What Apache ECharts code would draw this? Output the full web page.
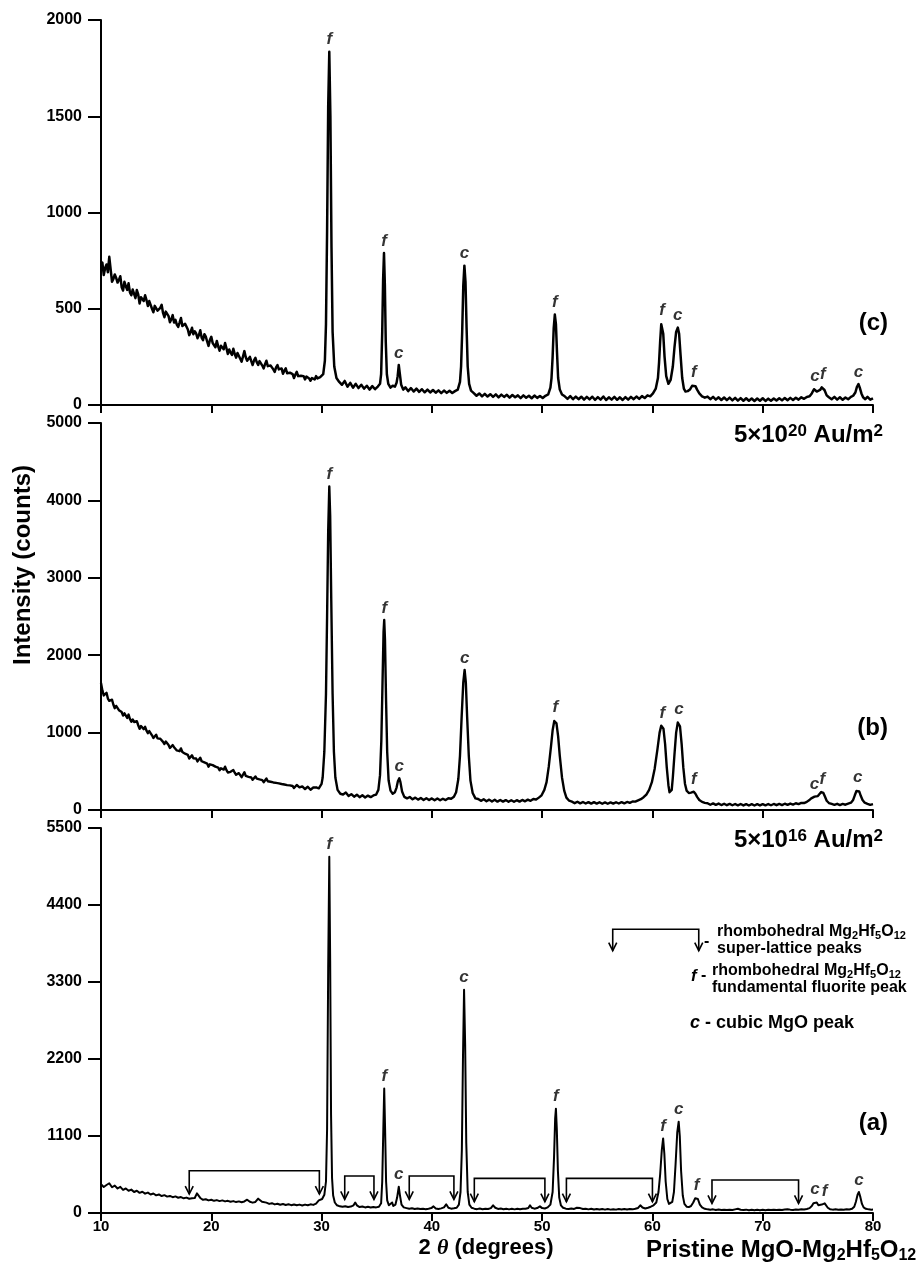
<!DOCTYPE html>
<html>
<head>
<meta charset="utf-8">
<script src="https://cdn.jsdelivr.net/npm/echarts@6/dist/echarts.min.js"></script>
<style>
  html, body { margin: 0; padding: 0; background: #fff; }
  #main { width: 923px; height: 1264px; }
</style>
</head>
<body>
<div id="main"></div>
<script>
// tick values
const xTicks = [10, 20, 30, 40, 50, 60, 70, 80]
const yTicksC = [0, 500, 1000, 1500, 2000]
const yTicksB = [0, 1000, 2000, 3000, 4000, 5000]
const yTicksA = [0, 1100, 2200, 3300, 4400, 5500]

// (c) 5x10^20 Au/m2 : [2theta, counts]
const patternC = [[10.00,725],[10.125,740],[10.25,675],[10.375,712],[10.50,730],[10.625,690],[10.75,770],[10.875,705],[11.00,640],[11.125,655],[11.25,678],[11.375,660],[11.50,636],[11.625,650],[11.75,669],[11.875,612],[12.00,594],[12.125,640],[12.25,617],[12.375,598],[12.50,632],[12.625,585],[12.75,570],[12.875,600],[13.00,577],[13.125,555],[13.25,597],[13.375,575],[13.50,527],[13.625,560],[13.75,564],[13.875,540],[14.00,570],[14.125,545],[14.25,514],[14.375,540],[14.50,530],[14.625,500],[14.75,482],[14.875,515],[15.00,525],[15.125,490],[15.25,482],[15.375,505],[15.50,520],[15.625,478],[15.75,456],[15.875,485],[16.00,478],[16.125,462],[16.25,430],[16.375,445],[16.50,467],[16.625,428],[16.75,442],[16.875,418],[17.00,406],[17.125,428],[17.25,452],[17.375,410],[17.50,405],[17.625,422],[17.75,424],[17.875,392],[18.00,363],[18.125,378],[18.25,401],[18.375,368],[18.50,383],[18.625,372],[18.75,347],[18.875,362],[19.00,388],[19.125,350],[19.25,337],[19.375,368],[19.50,355],[19.625,330],[19.75,307],[19.875,338],[20.00,354],[20.125,322],[20.25,316],[20.375,300],[20.50,333],[20.625,305],[20.75,282],[20.875,308],[21.00,312],[21.125,290],[21.25,322],[21.375,295],[21.50,265],[21.625,288],[21.75,272],[21.875,260],[22.00,292],[22.125,265],[22.25,246],[22.375,270],[22.50,266],[22.625,240],[22.75,225],[22.875,252],[23.00,280],[23.125,248],[23.25,230],[23.375,240],[23.50,250],[23.625,228],[23.75,208],[23.875,232],[24.00,245],[24.125,222],[24.25,208],[24.375,228],[24.50,220],[24.625,205],[24.75,190],[24.875,212],[25.00,230],[25.125,202],[25.25,192],[25.375,205],[25.50,209],[25.625,185],[25.75,172],[25.875,195],[26.00,207],[26.125,185],[26.25,176],[26.375,190],[26.50,162],[26.625,178],[26.75,190],[26.875,165],[27.00,158],[27.125,168],[27.25,176],[27.375,160],[27.50,140],[27.625,158],[27.75,172],[27.875,150],[28.00,148],[28.125,152],[28.25,160],[28.375,150],[28.50,133],[28.625,148],[28.75,157],[28.875,138],[29.00,126],[29.125,140],[29.25,149],[29.375,133],[29.50,150],[29.625,138],[29.75,128],[29.875,145],[30.00,148],[30.15,160],[30.30,230],[30.40,420],[30.50,900],[30.60,1550],[30.70,1835],[30.80,1500],[30.90,820],[31.00,380],[31.15,200],[31.35,140],[31.60,120],[31.85,105],[32.10,125],[32.35,95],[32.60,115],[32.85,90],[33.10,110],[33.35,88],[33.60,105],[33.85,85],[34.10,100],[34.35,80],[34.60,98],[34.85,82],[35.10,96],[35.30,110],[35.40,160],[35.50,380],[35.58,650],[35.66,790],[35.74,620],[35.82,330],[35.92,160],[36.05,110],[36.25,90],[36.45,100],[36.65,95],[36.80,115],[36.90,150],[37.00,208],[37.10,160],[37.22,105],[37.40,80],[37.60,92],[37.85,72],[38.10,88],[38.35,70],[38.60,85],[38.85,68],[39.10,82],[39.35,66],[39.60,80],[39.85,65],[40.10,78],[40.35,64],[40.60,76],[40.85,62],[41.10,75],[41.35,63],[41.60,74],[41.85,62],[42.10,72],[42.35,80],[42.55,120],[42.65,200],[42.75,380],[42.85,620],[42.95,724],[43.05,640],[43.15,400],[43.25,200],[43.38,110],[43.55,75],[43.80,62],[44.05,48],[44.30,60],[44.55,45],[44.80,58],[45.05,44],[45.30,56],[45.55,42],[45.80,55],[46.05,40],[46.30,54],[46.55,42],[46.80,53],[47.05,38],[47.30,52],[47.55,40],[47.80,50],[48.05,36],[48.30,50],[48.55,38],[48.80,48],[49.05,35],[49.30,49],[49.55,37],[49.80,47],[50.05,36],[50.30,48],[50.55,55],[50.75,90],[50.85,140],[50.95,250],[51.05,400],[51.15,470],[51.25,420],[51.35,270],[51.45,140],[51.60,80],[51.80,55],[52.05,45],[52.30,32],[52.55,46],[52.80,30],[53.05,44],[53.30,30],[53.55,43],[53.80,28],[54.05,42],[54.30,29],[54.55,43],[54.80,27],[55.05,41],[55.30,28],[55.55,44],[55.80,26],[56.05,40],[56.30,28],[56.55,42],[56.80,27],[57.05,40],[57.30,26],[57.55,41],[57.80,28],[58.05,42],[58.30,30],[58.55,44],[58.80,32],[59.05,46],[59.30,36],[59.55,50],[59.80,45],[60.05,60],[60.30,85],[60.50,140],[60.60,220],[60.70,330],[60.80,420],[60.88,428],[60.98,370],[61.10,250],[61.25,150],[61.45,110],[61.65,130],[61.85,200],[62.00,300],[62.15,380],[62.30,402],[62.42,370],[62.55,260],[62.70,140],[62.85,85],[63.00,70],[63.20,72],[63.40,80],[63.60,100],[63.75,106],[63.90,98],[64.05,80],[64.25,60],[64.50,45],[64.75,38],[65.00,44],[65.25,30],[65.50,42],[65.75,28],[66.00,40],[66.25,26],[66.50,39],[66.75,25],[67.00,38],[67.25,24],[67.50,37],[67.75,23],[68.00,36],[68.25,22],[68.50,35],[68.75,22],[69.00,34],[69.25,21],[69.50,34],[69.75,22],[70.00,35],[70.25,21],[70.50,33],[70.75,22],[71.00,34],[71.25,23],[71.50,35],[71.75,24],[72.00,36],[72.25,25],[72.50,37],[72.75,26],[73.00,38],[73.25,28],[73.50,40],[73.75,32],[74.00,42],[74.25,45],[74.45,60],[74.65,82],[74.75,87],[74.90,70],[75.05,65],[75.20,78],[75.35,92],[75.45,95],[75.60,78],[75.80,50],[76.00,40],[76.25,30],[76.50,42],[76.75,28],[77.00,40],[77.25,27],[77.50,39],[77.75,30],[78.00,42],[78.20,48],[78.40,65],[78.55,95],[78.68,109],[78.80,90],[78.95,60],[79.10,40],[79.30,30],[79.50,42],[79.75,28],[80.00,35]]

// (b) 5x10^16 Au/m2
const patternB = [[10.00,1640],[10.125,1545],[10.25,1480],[10.375,1470],[10.50,1515],[10.625,1440],[10.75,1410],[10.875,1395],[11.00,1425],[11.125,1360],[11.25,1315],[11.375,1345],[11.50,1335],[11.625,1290],[11.75,1315],[11.875,1265],[12.00,1220],[12.125,1250],[12.25,1235],[12.375,1190],[12.50,1233],[12.625,1175],[12.75,1140],[12.875,1170],[13.00,1137],[13.125,1115],[13.25,1147],[13.375,1095],[13.50,1048],[13.625,1085],[13.75,1080],[13.875,1045],[14.00,1075],[14.125,1025],[14.25,993],[14.375,1020],[14.50,1002],[14.625,965],[14.75,930],[14.875,950],[15.00,973],[15.125,925],[15.25,907],[15.375,920],[15.50,942],[15.625,880],[15.75,853],[15.875,885],[16.00,868],[16.125,840],[16.25,801],[16.375,820],[16.50,838],[16.625,812],[16.75,799],[16.875,770],[17.00,747],[17.125,760],[17.25,796],[17.375,750],[17.50,730],[17.625,728],[17.75,747],[17.875,712],[18.00,665],[18.125,690],[18.25,706],[18.375,668],[18.50,678],[18.625,665],[18.75,628],[18.875,650],[19.00,676],[19.125,630],[19.25,608],[19.375,615],[19.50,624],[19.625,600],[19.75,560],[19.875,590],[20.00,615],[20.125,580],[20.25,564],[20.375,560],[20.50,581],[20.625,548],[20.75,514],[20.875,540],[21.00,549],[21.125,522],[21.25,560],[21.375,515],[21.50,485],[21.625,505],[21.75,493],[21.875,488],[22.00,516],[22.125,482],[22.25,455],[22.375,468],[22.50,476],[22.625,462],[22.75,424],[22.875,445],[23.00,488],[23.125,440],[23.25,424],[23.375,428],[23.50,445],[23.625,420],[23.75,390],[23.875,412],[24.00,434],[24.125,405],[24.25,385],[24.375,395],[24.50,398],[24.625,386],[24.75,359],[24.875,378],[25.00,406],[25.125,372],[25.25,358],[25.375,365],[25.50,379],[25.625,356],[25.75,332],[25.875,350],[26.00,375],[26.125,344],[26.25,334],[26.375,336],[26.50,315],[26.625,330],[26.75,349],[26.875,322],[27.00,309],[27.125,318],[27.25,330],[27.375,310],[27.50,284],[27.625,305],[27.75,323],[27.875,298],[28.00,293],[28.125,296],[28.25,305],[28.375,290],[28.50,271],[28.625,284],[28.75,300],[28.875,280],[29.00,262],[29.125,278],[29.25,290],[29.375,276],[29.50,293],[29.625,286],[29.75,280],[29.875,300],[30.00,338],[30.10,420],[30.25,750],[30.40,1500],[30.50,2500],[30.60,3600],[30.70,4180],[30.78,3800],[30.88,2700],[31.00,1500],[31.12,750],[31.25,420],[31.45,260],[31.70,210],[31.95,200],[32.20,225],[32.45,180],[32.70,205],[32.95,172],[33.20,198],[33.45,165],[33.70,190],[33.95,162],[34.20,186],[34.45,166],[34.70,188],[34.95,200],[35.15,260],[35.30,450],[35.42,900],[35.52,1600],[35.62,2300],[35.68,2455],[35.75,2200],[35.85,1400],[35.95,750],[36.08,380],[36.25,250],[36.45,210],[36.65,230],[36.80,290],[36.92,370],[37.05,410],[37.15,360],[37.30,240],[37.50,170],[37.75,150],[38.00,168],[38.25,138],[38.50,160],[38.75,134],[39.00,155],[39.25,130],[39.50,152],[39.75,128],[40.00,150],[40.25,126],[40.50,148],[40.75,126],[41.00,146],[41.25,128],[41.50,152],[41.75,145],[42.00,170],[42.20,230],[42.40,400],[42.55,700],[42.70,1200],[42.85,1650],[42.97,1810],[43.08,1650],[43.20,1200],[43.35,700],[43.50,380],[43.70,220],[43.95,150],[44.20,142],[44.45,118],[44.70,138],[44.95,114],[45.20,134],[45.45,110],[45.70,132],[45.95,108],[46.20,130],[46.45,108],[46.70,128],[46.95,106],[47.20,127],[47.45,106],[47.70,127],[47.95,108],[48.20,130],[48.45,112],[48.70,134],[48.95,118],[49.20,142],[49.45,135],[49.70,160],[49.95,190],[50.20,260],[50.40,360],[50.60,560],[50.80,820],[50.95,1030],[51.10,1150],[51.20,1170],[51.30,1120],[51.45,950],[51.60,700],[51.80,420],[52.00,250],[52.20,160],[52.45,120],[52.70,108],[52.95,88],[53.20,106],[53.45,86],[53.70,104],[53.95,84],[54.20,102],[54.45,82],[54.70,101],[54.95,82],[55.20,100],[55.45,81],[55.70,99],[55.95,81],[56.20,98],[56.45,82],[56.70,100],[56.95,84],[57.20,102],[57.45,86],[57.70,104],[57.95,92],[58.20,110],[58.45,108],[58.70,125],[58.95,140],[59.20,165],[59.45,200],[59.70,260],[59.95,360],[60.20,530],[60.45,780],[60.65,1000],[60.80,1090],[60.90,1100],[61.00,1050],[61.15,850],[61.30,550],[61.45,320],[61.55,230],[61.65,215],[61.75,260],[61.85,420],[62.00,720],[62.15,1000],[62.30,1130],[62.40,1140],[62.50,1080],[62.65,850],[62.80,550],[62.95,340],[63.10,250],[63.30,220],[63.50,225],[63.65,235],[63.75,237],[63.90,210],[64.05,170],[64.25,130],[64.50,105],[64.75,92],[65.00,88],[65.25,68],[65.50,85],[65.75,66],[66.00,83],[66.25,64],[66.50,81],[66.75,62],[67.00,79],[67.25,61],[67.50,78],[67.75,60],[68.00,77],[68.25,59],[68.50,76],[68.75,58],[69.00,75],[69.25,58],[69.50,75],[69.75,59],[70.00,76],[70.25,60],[70.50,77],[70.75,61],[71.00,78],[71.25,62],[71.50,79],[71.75,64],[72.00,81],[72.25,66],[72.50,83],[72.75,70],[73.00,87],[73.25,76],[73.50,92],[73.75,90],[74.00,105],[74.20,125],[74.40,150],[74.55,165],[74.70,172],[74.85,170],[75.00,180],[75.15,205],[75.30,232],[75.40,237],[75.50,220],[75.65,170],[75.80,120],[76.00,90],[76.25,78],[76.50,66],[76.75,80],[77.00,64],[77.25,78],[77.50,68],[77.75,82],[78.00,95],[78.20,130],[78.35,190],[78.50,245],[78.62,267],[78.75,240],[78.90,180],[79.05,130],[79.25,95],[79.50,80],[79.75,66],[80.00,75]]

// (a) pristine MgO-Mg2Hf5O12
const patternA = [[10.00,410],[10.25,372],[10.50,400],[10.75,425],[11.00,368],[11.25,392],[11.50,350],[11.75,374],[12.00,330],[12.25,350],[12.50,318],[12.75,334],[13.00,300],[13.25,318],[13.50,288],[13.75,304],[14.00,276],[14.25,292],[14.50,264],[14.75,278],[15.00,252],[15.25,265],[15.50,242],[15.75,255],[16.00,234],[16.25,244],[16.50,226],[16.75,237],[17.00,218],[17.25,228],[17.50,210],[17.75,220],[18.00,203],[18.25,212],[18.50,215],[18.70,280],[18.85,290],[19.00,215],[19.25,188],[19.50,197],[19.75,180],[20.00,190],[20.25,174],[20.50,184],[20.75,170],[21.00,180],[21.25,166],[21.50,174],[21.75,160],[22.00,170],[22.25,156],[22.50,166],[22.75,153],[23.00,165],[23.25,190],[23.50,160],[23.75,148],[24.00,158],[24.25,205],[24.40,212],[24.60,160],[24.75,138],[25.00,148],[25.25,130],[25.50,140],[25.75,123],[26.00,132],[26.25,118],[26.50,128],[26.75,114],[27.00,124],[27.25,112],[27.50,122],[27.75,110],[28.00,120],[28.25,108],[28.50,120],[28.75,110],[29.00,124],[29.25,116],[29.50,135],[29.75,180],[29.90,175],[30.05,200],[30.25,260],[30.40,450],[30.50,1200],[30.60,3500],[30.70,5090],[30.78,3600],[30.86,1400],[30.95,500],[31.05,250],[31.20,150],[31.40,110],[31.65,95],[31.90,88],[32.15,96],[32.40,85],[32.65,92],[32.90,110],[33.05,150],[33.20,110],[33.45,85],[33.70,92],[33.95,80],[34.20,88],[34.45,78],[34.70,86],[34.95,80],[35.20,90],[35.40,140],[35.50,450],[35.60,1200],[35.68,1780],[35.76,1200],[35.85,450],[35.95,180],[36.10,110],[36.25,95],[36.40,150],[36.50,100],[36.70,120],[36.85,220],[37.00,376],[37.10,260],[37.25,120],[37.45,80],[37.70,70],[37.95,60],[38.20,68],[38.45,58],[38.70,64],[38.95,56],[39.20,62],[39.45,55],[39.70,62],[39.95,70],[40.15,95],[40.35,65],[40.60,58],[40.85,66],[41.10,80],[41.30,124],[41.50,75],[41.75,62],[42.00,68],[42.25,75],[42.45,120],[42.60,300],[42.72,900],[42.82,2200],[42.92,3190],[43.02,2400],[43.12,1000],[43.25,300],[43.40,120],[43.60,75],[43.85,62],[44.10,55],[44.35,64],[44.60,54],[44.85,60],[45.10,58],[45.35,70],[45.55,110],[45.75,75],[46.00,58],[46.25,64],[46.50,54],[46.75,62],[47.00,52],[47.25,60],[47.50,52],[47.75,60],[48.00,54],[48.25,62],[48.50,60],[48.75,72],[48.90,110],[49.05,75],[49.30,62],[49.55,70],[49.80,95],[50.00,70],[50.25,65],[50.50,80],[50.75,120],[50.95,300],[51.08,800],[51.18,1350],[51.25,1490],[51.33,1200],[51.43,600],[51.55,220],[51.70,110],[51.90,75],[52.15,62],[52.40,56],[52.65,64],[52.90,58],[53.15,75],[53.30,95],[53.45,70],[53.70,58],[53.95,62],[54.20,52],[54.45,60],[54.70,50],[54.95,58],[55.20,50],[55.45,57],[55.70,48],[55.95,56],[56.20,48],[56.45,55],[56.70,48],[56.95,56],[57.20,50],[57.45,58],[57.70,50],[57.95,58],[58.20,52],[58.45,60],[58.70,72],[58.90,110],[59.10,78],[59.35,64],[59.60,75],[59.85,90],[60.10,110],[60.35,150],[60.55,300],[60.70,550],[60.85,900],[60.97,1065],[61.08,850],[61.20,450],[61.35,200],[61.50,130],[61.65,120],[61.80,160],[61.95,300],[62.10,700],[62.25,1150],[62.38,1305],[62.48,1100],[62.60,600],[62.75,250],[62.90,130],[63.10,90],[63.30,85],[63.50,100],[63.70,150],[63.88,210],[64.00,224],[64.12,200],[64.30,120],[64.50,80],[64.75,60],[65.00,52],[65.25,46],[65.50,52],[65.75,44],[66.00,50],[66.25,44],[66.50,48],[66.75,42],[67.00,48],[67.25,42],[67.50,52],[67.75,60],[68.00,46],[68.25,42],[68.50,48],[68.75,40],[69.00,46],[69.25,40],[69.50,46],[69.75,40],[70.00,46],[70.25,40],[70.50,46],[70.75,42],[71.00,48],[71.25,42],[71.50,48],[71.75,42],[72.00,50],[72.25,55],[72.50,48],[72.75,44],[73.00,50],[73.25,46],[73.50,52],[73.75,50],[74.00,58],[74.25,70],[74.45,100],[74.60,140],[74.75,162],[74.90,150],[75.05,110],[75.20,100],[75.35,120],[75.50,135],[75.62,138],[75.75,115],[75.90,75],[76.10,55],[76.35,48],[76.60,52],[76.85,46],[77.10,50],[77.35,46],[77.60,52],[77.85,50],[78.10,60],[78.30,90],[78.45,160],[78.60,260],[78.72,300],[78.85,230],[79.00,130],[79.15,80],[79.35,60],[79.60,52],[79.85,48],[80.00,50]]

// peak labels: [2theta, counts at peak top, phase]
const peaksC = [[30.7,1835,'f'],[35.66,790,'f'],[37.0,208,'c'],[42.95,724,'c'],[51.15,470,'f'],[60.88,428,'f'],[62.3,402,'c'],[63.75,106,'f'],[74.75,87,'c'],[75.45,95,'f'],[78.68,109,'c']]
const peaksB = [[30.7,4180,'f'],[35.68,2455,'f'],[37.05,410,'c'],[42.97,1810,'c'],[51.2,1170,'f'],[60.9,1100,'f'],[62.4,1140,'c'],[63.75,237,'f'],[74.7,172,'c'],[75.4,237,'f'],[78.62,267,'c']]
const peaksA = [[30.7,5090,'f'],[35.68,1780,'f'],[37.0,376,'c'],[42.92,3190,'c'],[51.25,1490,'f'],[60.97,1065,'f'],[62.38,1305,'c'],[64.0,224,'f'],[74.75,162,'c'],[75.62,138,'f'],[78.72,300,'c']]

// super-lattice brackets in (a): [left 2theta, right 2theta, top counts, arrow tip counts]
const superLattice = [[18.0,29.8,604,271],[32.1,34.75,529,195],[37.95,42.0,529,195],[43.85,50.25,495,162],[52.2,60.0,495,162],[65.4,73.25,472,138]]
const legendBracket = [[56.4,64.2,4054,3748]]

const FONT = "'Liberation Sans', Arial, Helvetica, sans-serif"

function yAxisOf(ticks, idx) {
    return {
        type: 'value', gridIndex: idx,
        min: ticks[0], max: ticks[ticks.length - 1], interval: ticks[1] - ticks[0],
        axisLine: { show: true, lineStyle: { color: '#000', width: 2 } },
        axisTick: { show: true, length: 13, lineStyle: { color: '#000', width: 2 } },
        axisLabel: { margin: 19, color: '#000', fontSize: 16, fontWeight: 'bold', fontFamily: FONT, formatter: v => String(v) },
        splitLine: { show: false }
    }
}
function xAxisOf(idx, showLabel) {
    return {
        type: 'value', gridIndex: idx,
        min: xTicks[0], max: xTicks[xTicks.length - 1], interval: xTicks[1] - xTicks[0],
        axisLine: { show: true, onZero: false, lineStyle: { color: '#000', width: 2 } },
        axisTick: { show: true, length: 8, lineStyle: { color: '#000', width: 2 } },
        axisLabel: { show: showLabel, margin: 6, color: '#000', fontSize: 15, fontWeight: 'bold', fontFamily: FONT, formatter: v => String(v) },
        splitLine: { show: false }
    }
}
function curve(data, idx, w) {
    return {
        type: 'line', xAxisIndex: idx, yAxisIndex: idx, data: data,
        showSymbol: false, symbol: 'none', sampling: 'none',
        lineStyle: { color: '#000', width: w, join: 'round' }, silent: true
    }
}
function peakLabels(list, idx) {
    return {
        type: 'scatter', xAxisIndex: idx, yAxisIndex: idx, symbolSize: 1, silent: true,
        itemStyle: { color: 'rgba(0,0,0,0)' },
        data: list.map(p => ({ name: p[2], value: [p[0], p[1]] })),
        label: {
            show: true, position: 'top', distance: 3, formatter: '{b}',
            color: '#000', fontSize: 17, fontWeight: 'bold', fontStyle: 'italic', fontFamily: FONT
        }
    }
}
function bracketItem(params, api) {
    const p1 = api.coord([api.value(0), api.value(3)])
    const p2 = api.coord([api.value(0), api.value(2)])
    const p3 = api.coord([api.value(1), api.value(2)])
    const p4 = api.coord([api.value(1), api.value(3)])
    const st = { stroke: '#000', lineWidth: 1.6, fill: 'none' }
    const head = p => ({ type: 'polyline', shape: { points: [[p[0] - 4, p[1] - 8], [p[0], p[1]], [p[0] + 4, p[1] - 8]] }, style: st })
    return { type: 'group', children: [
        { type: 'polyline', shape: { points: [p1, p2, p3, p4] }, style: st },
        head(p1), head(p4)
    ] }
}
function brackets(list) {
    return {
        type: 'custom', xAxisIndex: 2, yAxisIndex: 2, silent: true,
        encode: { x: [0, 1], y: [2, 3] }, data: list, renderItem: bracketItem
    }
}

const sub = { fontSize: 11, fontWeight: 'bold', fontFamily: FONT, padding: [8, 0, 0, 0] }
const sub24 = { fontSize: 16, fontWeight: 'bold', fontFamily: FONT, padding: [12, 0, 0, 0] }
const sup = { fontSize: 17, fontWeight: 'bold', fontFamily: FONT, padding: [0, 0, 7, 0] }
function txt(x, y, text, opt) {
    return { type: 'text', x: x, y: y, silent: true, style: Object.assign({
        text: text, fill: '#000', font: 'bold 16px ' + FONT, align: 'left', verticalAlign: 'middle'
    }, opt || {}) }
}
const n16 = { fontSize: 16, fontWeight: 'bold', fontFamily: FONT }
const i16 = { fontSize: 17, fontWeight: 'bold', fontStyle: 'italic', fontFamily: FONT }
const n18 = { fontSize: 18, fontWeight: 'bold', fontFamily: FONT }
const i18 = { fontSize: 18, fontWeight: 'bold', fontStyle: 'italic', fontFamily: FONT }
const n24 = { fontSize: 24, fontWeight: 'bold', fontFamily: FONT }

var myChart = echarts.init(document.getElementById('main'))
var option = {
    animation: false,
    backgroundColor: '#fff',
    grid: [
        { left: 101, top: 20, width: 772, height: 385 },
        { left: 101, top: 423, width: 772, height: 387 },
        { left: 101, top: 828, width: 772, height: 385 }
    ],
    xAxis: [xAxisOf(0, false), xAxisOf(1, false), xAxisOf(2, true)],
    yAxis: [yAxisOf(yTicksC, 0), yAxisOf(yTicksB, 1), yAxisOf(yTicksA, 2)],
    series: [
        curve(patternC, 0, 2.5), curve(patternB, 1, 2.4), curve(patternA, 2, 2),
        peakLabels(peaksC, 0), peakLabels(peaksB, 1), peakLabels(peaksA, 2),
        brackets(superLattice), brackets(legendBracket)
    ],
    graphic: [
        Object.assign(txt(23, 565, 'Intensity (counts)', { font: 'bold 24px ' + FONT, align: 'center' }), { rotation: Math.PI / 2 }),
        txt(888, 323, '(c)', { font: 'bold 24px ' + FONT, align: 'right' }),
        txt(888, 728, '(b)', { font: 'bold 24px ' + FONT, align: 'right' }),
        txt(888, 1123, '(a)', { font: 'bold 24px ' + FONT, align: 'right' }),
        txt(883, 435, '{n|5×10}{p|20}{n| Au/m}{p|2}', { align: 'right', rich: { n: n24, p: sup } }),
        txt(883, 840, '{n|5×10}{p|16}{n| Au/m}{p|2}', { align: 'right', rich: { n: n24, p: sup } }),
        txt(486, 1248, '{n|2 }{t|θ}{n| (degrees)}', { align: 'center', rich: {
            n: { fontSize: 22, fontWeight: 'bold', fontFamily: FONT },
            t: { fontSize: 22, fontWeight: 'bold', fontStyle: 'italic', fontFamily: "'Liberation Serif', serif" } } }),
        txt(646, 1250, '{n|Pristine MgO-Mg}{s|2}{n|Hf}{s|5}{n|O}{s|12}', { rich: { n: n24, s: sub24 } }),
        // legend
        txt(704, 942, '-'),
        txt(717, 932, '{n|rhombohedral Mg}{s|2}{n|Hf}{s|5}{n|O}{s|12}', { rich: { n: n16, s: sub } }),
        txt(717, 949, 'super-lattice peaks'),
        txt(691, 976, '{i|f}{n| -}', { rich: { i: i16, n: n16 } }),
        txt(712, 971, '{n|rhombohedral Mg}{s|2}{n|Hf}{s|5}{n|O}{s|12}', { rich: { n: n16, s: sub } }),
        txt(712, 988, 'fundamental fluorite peak'),
        txt(690, 1023, '{i|c}{n| - cubic MgO peak}', { rich: { i: i18, n: n18 } })
    ]
}
myChart.setOption(option)
</script>
</body>
</html>
